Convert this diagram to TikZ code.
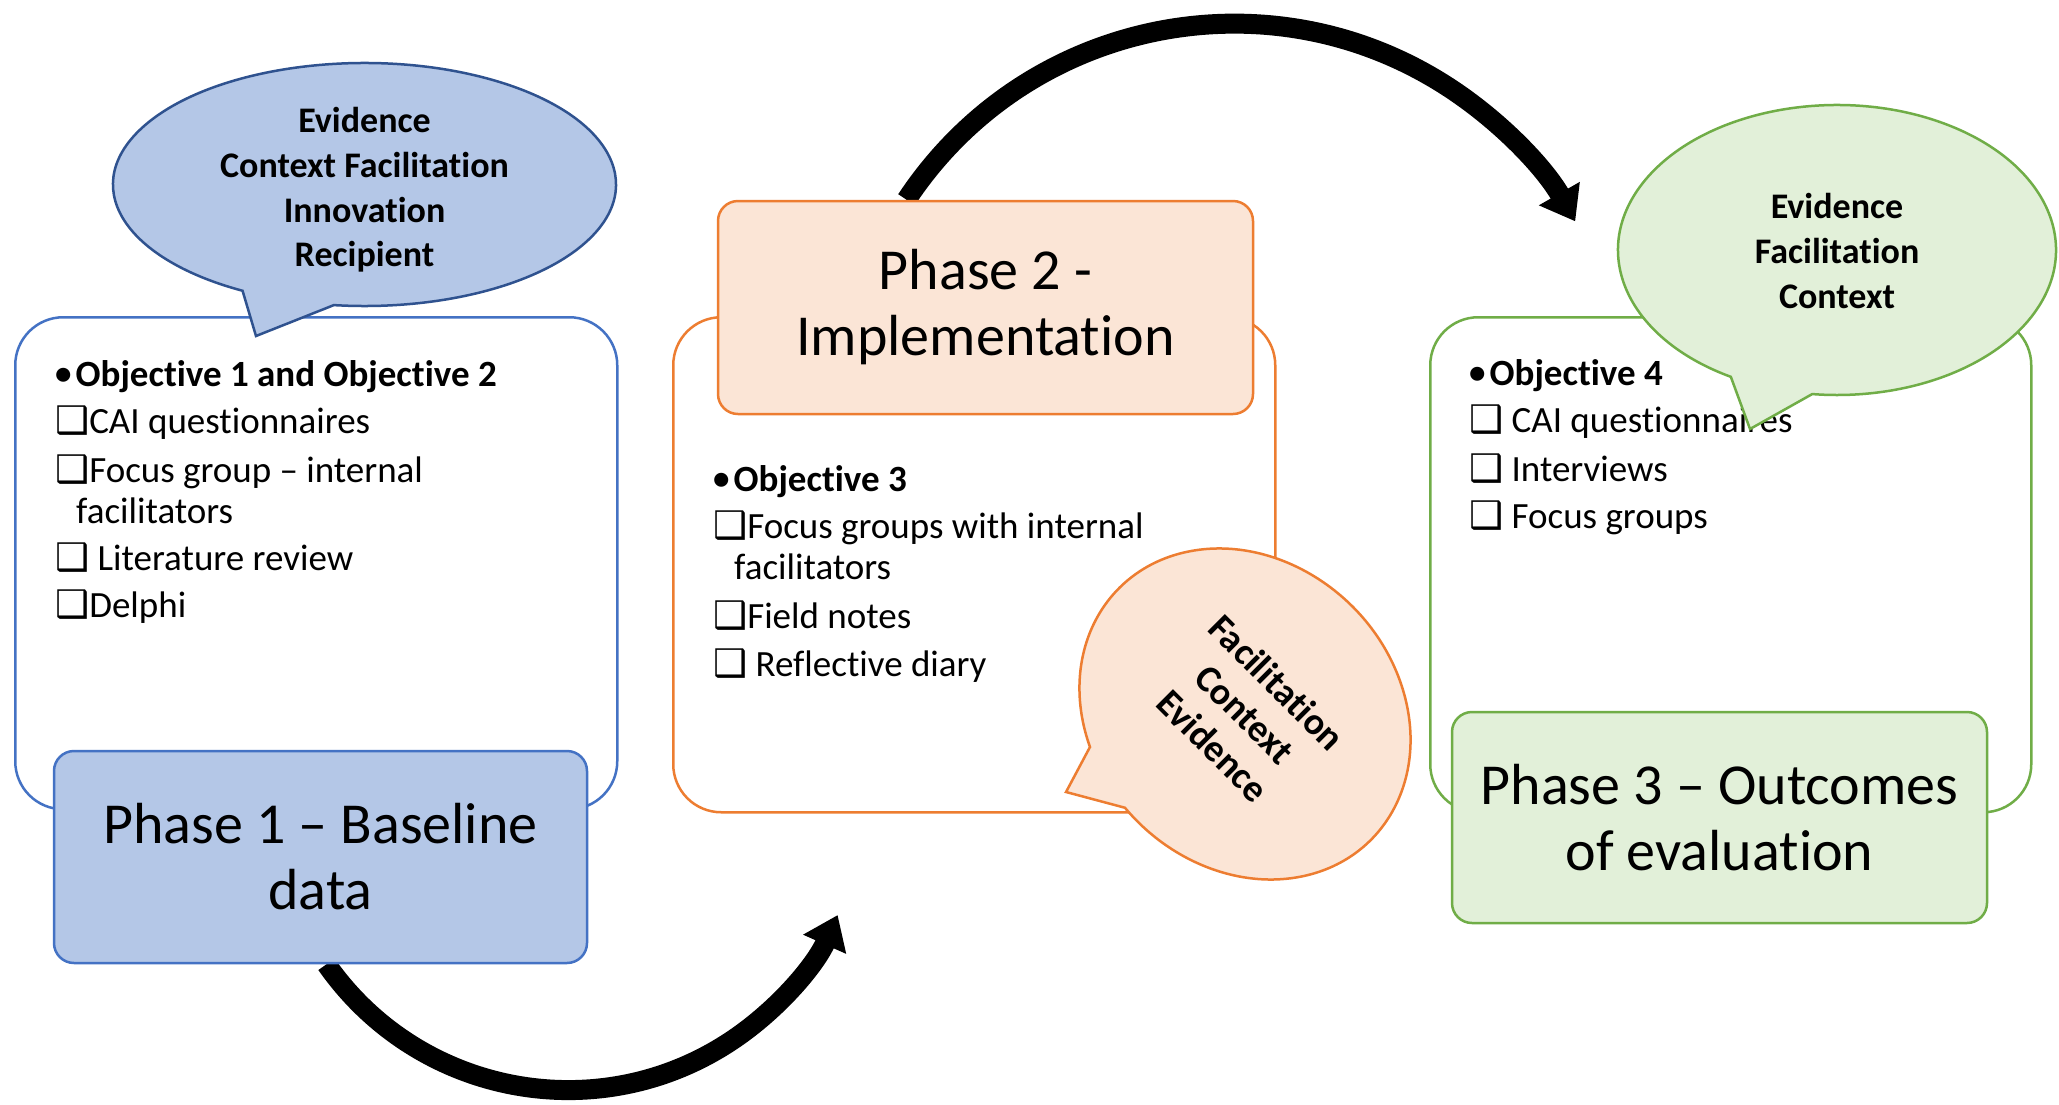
\documentclass[tikz,border=0pt]{standalone}
\usepackage{fontspec}
\setmainfont{Carlito}[Ligatures=NoCommon]
\newfontfamily\symfont{DejaVu Sans}
\usetikzlibrary{arrows.meta,backgrounds}

\definecolor{blueLine}{HTML}{4472C4}
\definecolor{blueEdge}{HTML}{2F528F}
\definecolor{blueFill}{HTML}{B4C7E7}
\definecolor{orangeLine}{HTML}{ED7D31}
\definecolor{orangeFill}{HTML}{FBE5D6}
\definecolor{greenLine}{HTML}{70AD47}
\definecolor{greenFill}{HTML}{E2F0D9}

% shadowed check box used in the method lists
\newcommand{\chk}{{\symfont\fontsize{38}{38}\selectfont ❑}}
% bullet in front of each objective heading
\newcommand{\bul}{\raisebox{2pt}{\fontsize{33}{33}\selectfont •}\hspace{4pt}}

\tikzset{
  panel/.style={draw, line width=2.5pt, rounded corners=48pt, fill=white,
                anchor=north west, inner sep=0pt},
  phasebox/.style={draw, line width=2.5pt, rounded corners=20pt, inner sep=0pt,
                   align=center, font=\fontsize{58}{66}\selectfont},
  item/.style={anchor=base west, inner sep=0pt, font=\fontsize{37}{41}\selectfont},
  itemhead/.style={item, font=\bfseries\fontsize{37}{41}\selectfont},
  bubble/.style={line width=2.5pt},
  bubbletext/.style={align=center, inner sep=0pt,
                     font=\bfseries\fontsize{36}{44.6}\selectfont},
  bigarrow/.style={line width=20pt, -{Triangle[width=45pt,length=32pt]}}
}

\begin{document}
\begin{tikzpicture}[x=1pt,y=1pt]
  \useasboundingbox (0,0) rectangle (2059,-1104);

  % ---- method panels ----
  \node[panel, draw=blueLine, minimum width=602pt, minimum height=492pt] (panA) at (14,-316) {};
  \node[panel, draw=orangeLine, minimum width=602pt, minimum height=495pt] (panB) at (672,-316) {};
  \node[panel, draw=greenLine, minimum width=601pt, minimum height=495pt] (panC) at (1429,-316) {};

  % panel 1 contents
  \node[itemhead] (a1) at (55,-386) {\bul Objective 1 and Objective 2};
  \node[item] (a2) at (55,-433) {\chk CAI questionnaires};
  \node[item] (a3) at (55,-482) {\chk Focus group – internal};
  \node[item] (a4) at (76,-523) {facilitators};
  \node[item] (a5) at (55,-570) {\chk\ Literature review};
  \node[item] (a6) at (55,-617) {\chk Delphi};

  % panel 2 contents
  \node[itemhead] (b1) at (713,-491) {\bul Objective 3};
  \node[item] (b2) at (713,-538) {\chk Focus groups with internal};
  \node[item] (b3) at (734,-579) {facilitators};
  \node[item] (b4) at (713,-628) {\chk Field notes};
  \node[item] (b5) at (713,-676) {\chk\ Reflective diary};

  % panel 3 contents
  \node[itemhead] (c1) at (1469,-385) {\bul Objective 4};
  \node[item] (c2) at (1469,-432) {\chk\ CAI questionnaires};
  \node[item] (c3) at (1469,-481) {\chk\ Interviews};
  \node[item] (c4) at (1469,-528) {\chk\ Focus groups};

  % ---- phase boxes ----
  \node[phasebox, fill=blueFill, draw=blueLine, minimum width=533pt, minimum height=212pt]
    (p1) at (320.5,-857) {Phase 1 – Baseline\\data};
  \node[phasebox, fill=orangeFill, draw=orangeLine, minimum width=535pt, minimum height=213pt]
    (p2) at (985.5,-307.5) {Phase 2 -\\Implementation};
  \node[phasebox, fill=greenFill, draw=greenLine, minimum width=535pt, minimum height=211pt]
    (p3) at (1719.5,-817.5) {Phase 3 – Outcomes\\of evaluation};

  % ---- curved flow arrows, behind the boxes ----
  \begin{pgfonlayer}{background}
    \fill[white] (0,0) rectangle (2059,-1104);
    \draw[bigarrow] ([xshift=6pt]p1.south) arc[start angle=-145, end angle=-24, radius=295];
    \draw[bigarrow] ([xshift=-79pt]p2.north) arc[start angle=146.5, end angle=29.8, radius=393];
  \end{pgfonlayer}

  % ---- speech bubbles ----
  % blue
  \filldraw[bubble, fill=blueFill, draw=blueEdge]
    (364.5,-184.5) ++(-119:251.5 and 121.5)
    arc[start angle=-119, end angle=-457, x radius=251.5, y radius=121.5]
    -- (256,-336) -- cycle;
  \node[bubbletext] (tA) at (364.5,-190) {Evidence\\Context Facilitation\\Innovation\\Recipient};

  % green
  \filldraw[bubble, fill=greenFill, draw=greenLine]
    (1837,-250) ++(-119:219 and 145)
    arc[start angle=-119, end angle=-456.5, x radius=219, y radius=145]
    -- (1750,-429) -- cycle;
  \node[bubbletext] (tC) at (1837,-251) {Evidence\\Facilitation\\Context};

  % orange, tilted
  \begin{scope}[shift={(1245,-714)}, rotate=-45]
    \filldraw[bubble, fill=orangeFill, draw=orangeLine]
      (-119:178 and 152)
      arc[start angle=-119, end angle=-456, x radius=178, y radius=152]
      -- (-71.4,-181.7) -- cycle;
    \node[bubbletext, font=\bfseries\fontsize{38}{45}\selectfont, rotate=-45] (tB) at (0,0)
      {Facilitation\\Context\\Evidence};
  \end{scope}
\end{tikzpicture}
\end{document}
